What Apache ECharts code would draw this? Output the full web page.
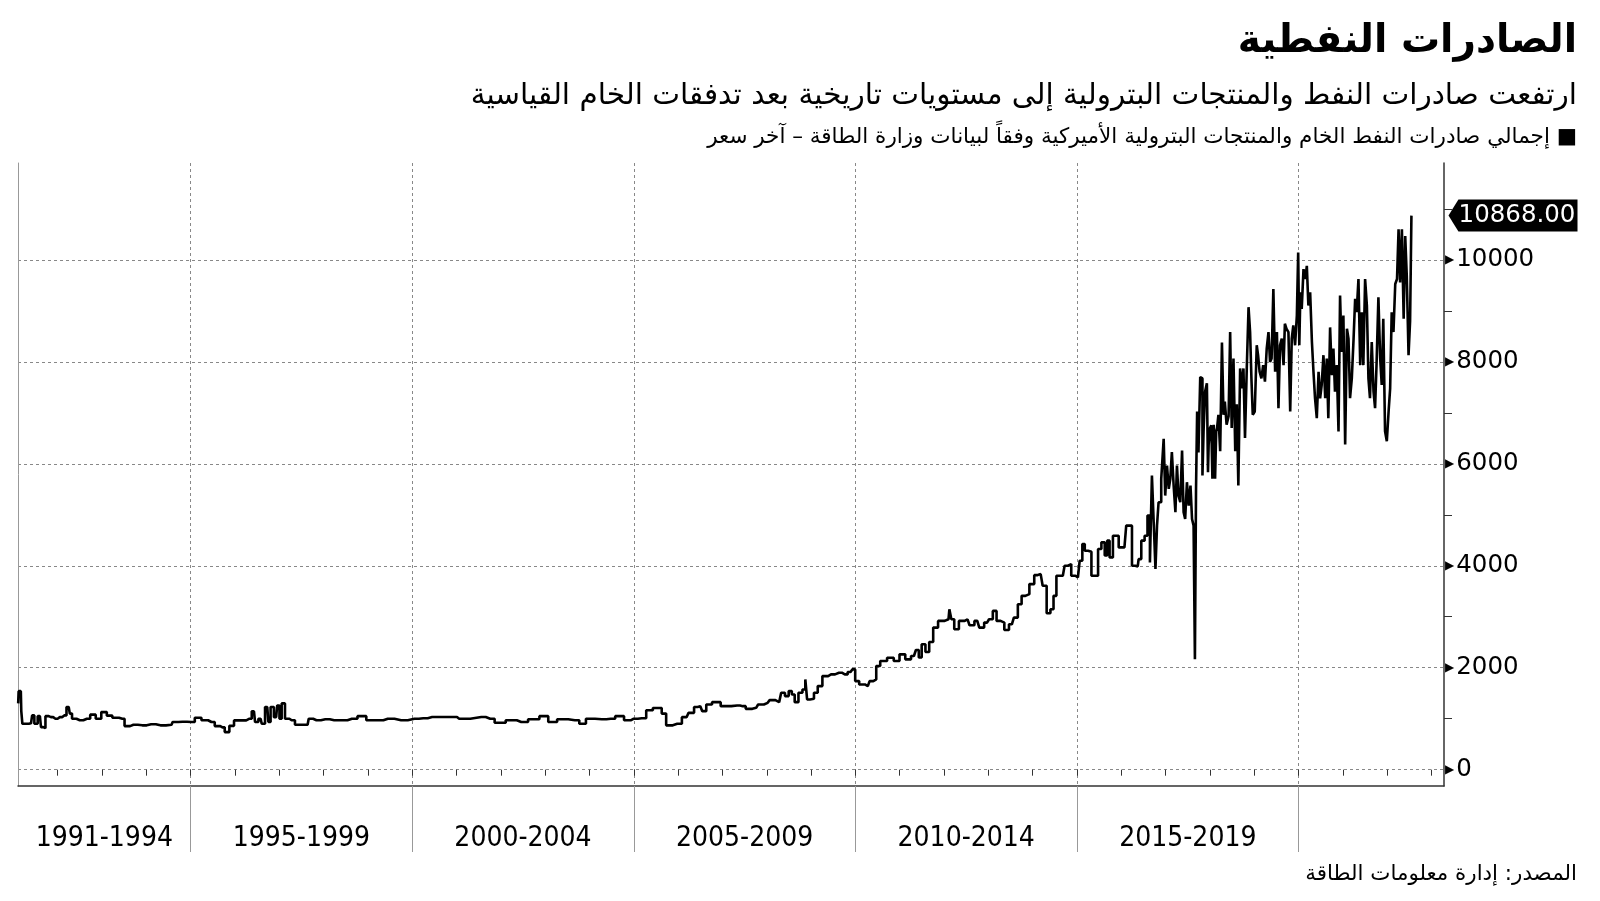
<!DOCTYPE html>
<html><head><meta charset="utf-8">
<script src="https://cdn.jsdelivr.net/npm/echarts@6/dist/echarts.min.js"></script>
<style>html,body{margin:0;padding:0;background:#fff}#c{width:1600px;height:901px}</style>
</head><body><div id="c"></div>
<script>
// Weekly US crude oil & petroleum product exports (thousand b/d): [decimal year, value]
const exports1991to1999 = [[1991.11,1300],[1991.13,1540],[1991.17,1540],[1991.19,1150],[1991.22,900],[1991.30,900],[1991.40,910],[1991.45,1065],[1991.50,900],[1991.60,1050],[1991.65,835],[1991.70,815],[1991.75,1050],[1991.85,1030],[1991.95,1000],
[1992.05,1030],[1992.15,1065],[1992.25,1230],[1992.30,1100],[1992.35,1000],[1992.50,970],[1992.66,1000],[1992.81,1080],[1992.91,1000],
[1993.06,1130],[1993.16,1060],[1993.31,1020],[1993.46,1000],[1993.56,855],[1993.71,880],[1993.91,870],
[1994.11,890],[1994.32,870],[1994.57,880],[1994.62,935],[1994.82,940],
[1995.02,935],[1995.17,1020],[1995.32,970],[1995.47,935],[1995.62,855],[1995.72,830],[1995.82,737],[1995.93,860],
[1996.03,967],[1996.18,967],[1996.33,1000],[1996.43,1145],[1996.48,935],[1996.58,1000],[1996.63,900],[1996.73,1230],[1996.78,935],[1996.83,1230],[1996.93,1030],[1996.98,1260],
[1997.03,1000],[1997.08,1300],[1997.18,1000],[1997.28,970],[1997.43,880],[1997.64,880],[1997.69,1000],[1997.84,970],
[1998.04,990],[1998.24,970],[1998.44,970],[1998.64,1000],[1998.89,1050],
[1999.04,970],[1999.25,970],[1999.45,1000],[1999.75,970]];
const exports2000to2009 = [[2000.05,1000],[2000.25,1010],[2000.45,1033],[2000.96,1033],
[2001.06,1000],[2001.56,1033],[2001.76,1000],[2001.96,920],
[2002.26,970],[2002.46,935],[2002.77,990],[2002.97,1050],
[2003.17,935],[2003.37,990],[2003.67,970],[2003.87,900],[2003.97,1000],
[2004.28,990],[2004.48,1000],[2004.68,1050],[2004.88,970],
[2005.00,1000],[2005.18,1010],[2005.38,1165],[2005.48,1210],[2005.58,1210],[2005.68,1100],[2005.78,870],[2005.98,900],
[2006.19,1030],[2006.28,1115],[2006.44,1230],[2006.50,1246],[2006.59,1148],[2006.68,1279],[2006.85,1325],
[2007.07,1246],[2007.33,1260],[2007.46,1246],[2007.59,1193],[2007.76,1213],[2007.85,1279],
[2008.02,1311],[2008.11,1364],[2008.28,1325],[2008.37,1508],[2008.45,1443],[2008.54,1541],[2008.59,1475],[2008.67,1325],[2008.76,1508],[2008.85,1574],[2008.89,1770],[2008.93,1377],
[2009.02,1390],[2009.11,1508],[2009.19,1640],[2009.32,1836],[2009.45,1869],[2009.63,1902],[2009.76,1869],[2009.89,1915],[2009.97,1967]];
const exports2010to2016 = [[2010.02,1738],[2010.15,1672],[2010.28,1640],[2010.36,1738],[2010.45,1770],[2010.49,2033],[2010.63,2131],[2010.80,2197],[2010.93,2131],
[2011.06,2262],[2011.19,2164],[2011.32,2230],[2011.41,2347],[2011.45,2200],[2011.54,2459],[2011.62,2308],[2011.71,2505],[2011.80,2787],[2011.93,2918],
[2012.10,2950],[2012.14,3147],[2012.19,2950],[2012.27,2754],[2012.40,2918],[2012.53,2950],[2012.62,2833],[2012.75,2918],[2012.84,2787],[2012.97,2885],
[2013.06,2950],[2013.14,3115],[2013.23,2918],[2013.32,2885],[2013.40,2741],[2013.53,2852],[2013.62,2983],[2013.71,3246],[2013.79,3410],[2013.88,3443],[2013.97,3640],
[2014.10,3816],[2014.18,3836],[2014.27,3607],[2014.36,3069],[2014.44,3148],[2014.50,3410],[2014.57,3803],[2014.68,3803],[2014.76,4000],[2014.83,4033],[2014.91,3803],
[2015.02,3770],[2015.10,4098],[2015.14,4426],[2015.21,4295],[2015.29,4275],[2015.36,3803],[2015.44,3803],[2015.51,4328],[2015.59,4459],[2015.66,4200],[2015.70,4492],[2015.77,4164],[2015.85,4590],[2015.92,4590],[2015.96,4360],
[2016.07,4360],[2016.15,4787],[2016.22,4787],[2016.26,4000],[2016.37,3987],[2016.41,4131],[2016.49,4492],[2016.56,4590],[2016.62,4984],[2016.67,4066],[2016.71,5770],[2016.75,4852],[2016.79,3935],[2016.82,4787],[2016.86,5246],[2016.94,5705],[2016.97,6492]];
const exports2017to2022 = [[2017.01,5377],[2017.05,5967],[2017.09,5508],[2017.12,5705],[2017.16,6229],[2017.20,5574],[2017.24,5049],[2017.27,5967],[2017.31,5377],[2017.35,5246],[2017.39,6262],[2017.42,5049],[2017.46,4918],[2017.50,5639],[2017.54,5180],[2017.58,5574],[2017.61,4918],[2017.65,4787],[2017.67,2164],[2017.70,5500],[2017.72,7026],[2017.76,6220],[2017.80,7700],[2017.82,7675],[2017.84,5770],[2017.87,6636],[2017.91,7416],[2017.95,7578],[2017.96,5836],[2017.98,6377],
[2018.02,6701],[2018.04,6754],[2018.07,5705],[2018.10,6766],[2018.13,5705],[2018.15,6636],[2018.17,6701],[2018.21,6961],[2018.25,6247],[2018.29,8377],[2018.32,6961],[2018.35,7221],[2018.40,6766],[2018.44,6935],[2018.47,8584],[2018.51,6701],[2018.55,8065],[2018.59,6247],[2018.62,7169],[2018.66,5574],[2018.70,7870],[2018.74,7480],[2018.77,7870],[2018.81,6506],[2018.85,7870],[2018.89,9072],[2018.92,8584],[2018.95,7675],[2018.98,6961],
[2019.04,7026],[2019.07,8325],[2019.10,8130],[2019.14,7805],[2019.18,7675],[2019.22,7935],[2019.26,7610],[2019.30,8260],[2019.34,8584],[2019.37,8000],[2019.41,8065],[2019.45,9429],[2019.49,7805],[2019.53,8584],[2019.56,7091],[2019.60,8325],[2019.64,8455],[2019.68,7935],[2019.70,8747],[2019.75,8649],[2019.79,8584],[2019.83,7026],[2019.86,8455],[2019.90,8714],[2019.94,8325],[2019.98,8909],
[2020.00,10143],[2020.03,8325],[2020.05,9364],[2020.09,9039],[2020.13,9818],[2020.17,9624],[2020.20,9883],[2020.24,9104],[2020.28,9364],[2020.32,8390],[2020.35,7805],[2020.39,7286],[2020.43,6896],[2020.47,7805],[2020.50,7286],[2020.54,7545],[2020.58,8130],[2020.62,7286],[2020.65,8065],[2020.69,6896],[2020.73,8675],[2020.77,7740],[2020.80,8260],[2020.84,7416],[2020.88,7935],[2020.92,6636],[2020.95,9299],[2020.99,8195],
[2021.03,8909],[2021.07,6377],[2021.11,8649],[2021.14,8455],[2021.18,7286],[2021.22,7675],[2021.26,8455],[2021.29,9234],[2021.33,8974],[2021.37,9624],[2021.41,7935],[2021.44,8974],[2021.48,7935],[2021.52,9624],[2021.56,9104],[2021.59,7675],[2021.63,7286],[2021.67,8390],[2021.71,7416],[2021.74,7091],[2021.78,8000],[2021.82,9266],[2021.86,8065],[2021.89,7545],[2021.93,8844],[2021.97,6636],
[2022.01,6442],[2022.05,7026],[2022.08,7480],[2022.12,8974],[2022.16,8584],[2022.20,9526],[2022.24,9624],[2022.27,10598],[2022.31,9558],[2022.35,10598],[2022.39,8844],[2022.42,10468],[2022.46,9688],[2022.50,8130],[2022.53,8800],[2022.56,10868]];

const periodBreaks = [1995, 2000, 2005, 2010, 2015, 2020];
const periodLabels = ['1991-1994', '1995-1999', '2000-2004', '2005-2009', '2010-2014', '2015-2019'];
const yearTicks = [1992,1993,1994,1995,1996,1997,1998,1999,2000,2001,2002,2003,2004,2005,2006,2007,2008,2009,2010,2011,2012,2013,2014,2015,2016,2017,2018,2019,2020,2021,2022,2023];
const yMajorTicks = [0, 2000, 4000, 6000, 8000, 10000];
const yMinorTicks = [1000, 3000, 5000, 7000, 9000, 11000];

const titleText = 'الصادرات النفطية';
const subtitleText = 'ارتفعت صادرات النفط والمنتجات البترولية إلى مستويات تاريخية بعد تدفقات الخام القياسية';
const legendText = 'إجمالي صادرات النفط الخام والمنتجات البترولية الأميركية وفقاً لبيانات وزارة الطاقة – آخر سعر';
const sourceText = 'المصدر: إدارة معلومات الطاقة';

const X_MIN = 1991.106, X_MAX = 2023.28;
const Y_MIN = -320, Y_MAX = 11900;

const seriesData = exports1991to1999.concat(exports2000to2009, exports2010to2016, exports2017to2022);
const lastPoint = seriesData[seriesData.length - 1];
const bounds = [X_MIN].concat(periodBreaks);
const periodMids = periodLabels.map((_, i) => (bounds[i] + bounds[i + 1]) / 2);

const AR = 'DejaVu Sans';
const chart = echarts.init(document.getElementById('c'), null, {renderer: 'canvas'});
chart.setOption({
  animation: false,
  backgroundColor: '#fff',
  title: [
    {text: titleText, right: 23, top: 22, padding: 0, textStyle: {fontFamily: AR, fontWeight: 'bold', fontSize: 39, color: '#000'}},
    {text: subtitleText, right: 23, top: 81, padding: 0, textStyle: {fontFamily: AR, fontWeight: 'normal', fontSize: 29.5, color: '#000'}},
    {text: legendText + ' ■', right: 23, top: 126, padding: 0, textStyle: {fontFamily: AR, fontWeight: 'normal', fontSize: 21.5, color: '#000'}},
    {text: sourceText, right: 23, top: 864, padding: 0, textStyle: {fontFamily: AR, fontWeight: 'normal', fontSize: 21.4, color: '#000'}}
  ],
  grid: {left: 18, right: 156, top: 163, bottom: 115, containLabel: false},
  xAxis: [
    {
      type: 'value', min: X_MIN, max: X_MAX, position: 'bottom',
      axisLine: {show: true, onZero: false, lineStyle: {color: '#333', width: 1.5}},
      axisTick: {show: true, customValues: periodBreaks, length: 66, lineStyle: {color: '#999', width: 1}},
      splitLine: {show: true, lineStyle: {color: '#888', type: [3, 3], width: 1}},
      axisLabel: {
        show: true, customValues: periodMids, margin: 39,
        fontFamily: 'DejaVu Sans Condensed', fontSize: 28, color: '#000',
        formatter: v => { const i = periodMids.findIndex(m => Math.abs(m - v) < 0.01); return i >= 0 ? periodLabels[i] : ''; }
      }
    },
    {
      type: 'value', min: X_MIN, max: X_MAX, position: 'bottom',
      axisLine: {show: false},
      axisTick: {show: true, customValues: yearTicks, length: 6, lineStyle: {color: '#333', width: 1}},
      splitLine: {show: false},
      axisLabel: {show: false}
    }
  ],
  yAxis: [
    {
      type: 'value', min: Y_MIN, max: Y_MAX, position: 'right',
      axisLine: {show: true, onZero: false, lineStyle: {color: '#333', width: 1.5}},
      axisTick: {show: false, customValues: yMajorTicks},
      splitLine: {show: true, lineStyle: {color: '#888', type: [3, 3], width: 1}},
      axisLabel: {
        show: true, customValues: yMajorTicks, margin: 1,
        formatter: v => '{t|▶}{v|' + v + '}',
        rich: {
          t: {fontSize: 12, color: '#000', fontFamily: 'DejaVu Sans', padding: [0, 2, 0, 0]},
          v: {fontSize: 24.5, color: '#000', fontFamily: 'DejaVu Sans'}
        }
      }
    },
    {
      type: 'value', min: Y_MIN, max: Y_MAX, position: 'right',
      axisLine: {show: false},
      axisTick: {show: true, customValues: yMinorTicks, length: 8, lineStyle: {color: '#333', width: 1}},
      splitLine: {show: false}, axisLabel: {show: false}
    },
    {
      type: 'value', min: Y_MIN, max: Y_MAX, position: 'left',
      axisLine: {show: true, onZero: false, lineStyle: {color: '#999', width: 1}},
      axisTick: {show: false}, splitLine: {show: false}, axisLabel: {show: false}
    }
  ],
  series: [{
    type: 'line', xAxisIndex: 0, yAxisIndex: 0,
    data: seriesData, showSymbol: false, step: 'middle',
    lineStyle: {color: '#000', width: 2.6}, itemStyle: {color: '#000'},
    markPoint: {
      symbol: 'path://M0,16L10,0L130,0L130,32L10,32Z',
      symbolSize: [129, 32], symbolKeepAspect: false, symbolOffset: [69, 0],
      itemStyle: {color: '#000'},
      label: {show: true, position: 'inside', offset: [4, 0], color: '#fff', fontSize: 24.5, fontFamily: 'DejaVu Sans',
        formatter: p => Number(p.value).toFixed(2)},
      data: [{coord: [X_MAX, lastPoint[1]], value: lastPoint[1]}]
    }
  }]
});
</script>
</body></html>
